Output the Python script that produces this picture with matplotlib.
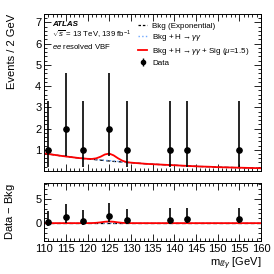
import numpy as np
import matplotlib
matplotlib.use("Agg")
import matplotlib.pyplot as plt
from matplotlib.ticker import MultipleLocator
from matplotlib.lines import Line2D

plt.rcParams['font.family'] = ['Liberation Sans', 'DejaVu Sans']
plt.rcParams['mathtext.fontset'] = 'custom'
plt.rcParams['mathtext.rm'] = 'Liberation Sans'
plt.rcParams['mathtext.it'] = 'Liberation Sans:italic'

# data points (bin centres, 2 GeV bins)
data_x = [111, 115, 119, 125, 129, 139, 143, 155]
data_y = [1, 2, 1, 2, 1, 1, 1, 1]
err_lo = [0.83, 1.29, 0.83, 1.29, 0.83, 0.83, 0.83, 0.83]
err_hi = [2.30, 2.64, 2.30, 2.64, 2.30, 2.30, 2.30, 2.30]
diff_y = [0.20, 1.31, 0.41, 1.53, 0.60, 0.72, 0.76, 0.85]

# model curves
mass = [110, 112, 114, 116, 118, 120, 121, 122, 123, 124, 125, 126, 127, 128, 129, 130,
        132, 134, 136, 138, 140, 142, 144, 146, 148, 150, 152, 154, 156, 158, 160]
bkg = [0.83, 0.77, 0.71, 0.66, 0.61, 0.57, 0.55, 0.53, 0.51, 0.49, 0.47, 0.45, 0.44, 0.42, 0.40, 0.39,
       0.36, 0.33, 0.31, 0.29, 0.27, 0.25, 0.23, 0.21, 0.20, 0.18, 0.17, 0.16, 0.15, 0.14, 0.13]
higgs = [0, 0, 0, 0, 0, 0, 0.002, 0.006, 0.012, 0.018, 0.02, 0.018, 0.012, 0.006, 0.002, 0,
         0, 0, 0, 0, 0, 0, 0, 0, 0, 0, 0, 0, 0, 0, 0]
sig = [0, 0, 0, 0, 0, 0.003, 0.015, 0.06, 0.15, 0.27, 0.33, 0.27, 0.15, 0.06, 0.015, 0.003,
       0, 0, 0, 0, 0, 0, 0, 0, 0, 0, 0, 0, 0, 0, 0]

mass = np.array(mass)
bkg = np.array(bkg)
higgs = np.array(higgs)
sig = np.array(sig)

fig = plt.figure(figsize=(2.74, 2.74), dpi=100)
ax1 = fig.add_axes([0.161, 0.376, 0.792, 0.573])
ax2 = fig.add_axes([0.161, 0.120, 0.792, 0.211])

blue = '#6fa8ff'
ax1.plot(mass, bkg, color='black', ls='--', lw=0.9, dashes=(3, 2))
ax1.plot(mass, bkg + higgs, color=blue, ls=':', lw=1.0)
ax1.plot(mass, bkg + higgs + sig, color='red', lw=1.3)
ax1.errorbar(data_x, data_y, yerr=[err_lo, err_hi], fmt='o', color='black',
             ms=3.8, elinewidth=1.2, capsize=0, zorder=5)

ax2.plot(mass, np.zeros_like(mass), color='black', ls='--', lw=0.9, dashes=(3, 2))
ax2.plot(mass, higgs, color=blue, ls=':', lw=1.0)
ax2.plot(mass, higgs + sig, color='red', lw=1.3)
ax2.errorbar(data_x, diff_y, yerr=[err_lo, err_hi], fmt='o', color='black',
             ms=3.8, elinewidth=1.2, capsize=0, zorder=5)

ax1.set_xlim(110, 160)
ax2.set_xlim(110, 160)
ax1.set_ylim(0, 7.4)
ax2.set_ylim(-3.7, 8.2)

for ax in (ax1, ax2):
    ax.xaxis.set_major_locator(MultipleLocator(5))
    ax.xaxis.set_minor_locator(MultipleLocator(1))
    ax.tick_params(which='both', direction='in', top=True, right=True, labelsize=8, pad=2)
    ax.tick_params(which='major', length=5, width=0.6)
    ax.tick_params(which='minor', length=2.5, width=0.6)
    for s in ax.spines.values():
        s.set_linewidth(0.7)
ax1.yaxis.set_major_locator(MultipleLocator(1))
ax1.yaxis.set_minor_locator(MultipleLocator(0.2))
ax2.yaxis.set_major_locator(MultipleLocator(5))
ax2.yaxis.set_minor_locator(MultipleLocator(1))
ax1.set_xticklabels([])
ax1.set_yticks([1, 2, 3, 4, 5, 6, 7])

ax1.set_ylabel('Events / 2 GeV', fontsize=8, loc='top')
ax2.set_ylabel('Data $-$ Bkg', fontsize=8, loc='top')
ax2.set_xlabel(r'm$_{\ell\ell\gamma}$ [GeV]', fontsize=8, loc='right', labelpad=1)
ax1.yaxis.set_label_coords(-0.125, 1.0)
ax2.yaxis.set_label_coords(-0.125, 1.0)

ax1.text(0.037, 0.936, 'ATLAS', transform=ax1.transAxes, fontsize=5.8,
         fontweight='bold', fontstyle='italic', va='center')
ax1.text(0.037, 0.866, r'$\sqrt{s}$ = 13 TeV, 139 fb$^{-1}$', transform=ax1.transAxes,
         fontsize=5.6, va='center')
ax1.text(0.037, 0.79, r'$ee$ resolved VBF', transform=ax1.transAxes,
         fontsize=5.6, va='center')

handles = [
    Line2D([], [], color='black', ls='--', lw=0.9, dashes=(2, 1.5)),
    Line2D([], [], color=blue, ls=':', lw=1.0),
    Line2D([], [], color='red', lw=1.3),
    ax1.errorbar([], [], yerr=[], fmt='o', color='black', ms=3, elinewidth=1.0),
]
labels = ['Bkg (Exponential)', r'Bkg + H$\rightarrow\gamma\gamma$',
          r'Bkg + H$\rightarrow\gamma\gamma$ + Sig ($\mu$=1.5)', 'Data']
ax1.legend(handles, labels, loc='upper left', bbox_to_anchor=(0.42, 0.968), frameon=False,
           fontsize=5.8, handlelength=1.1, handletextpad=0.6, labelspacing=0.3,
           borderaxespad=0)

fig.savefig('out.png', dpi=100)
